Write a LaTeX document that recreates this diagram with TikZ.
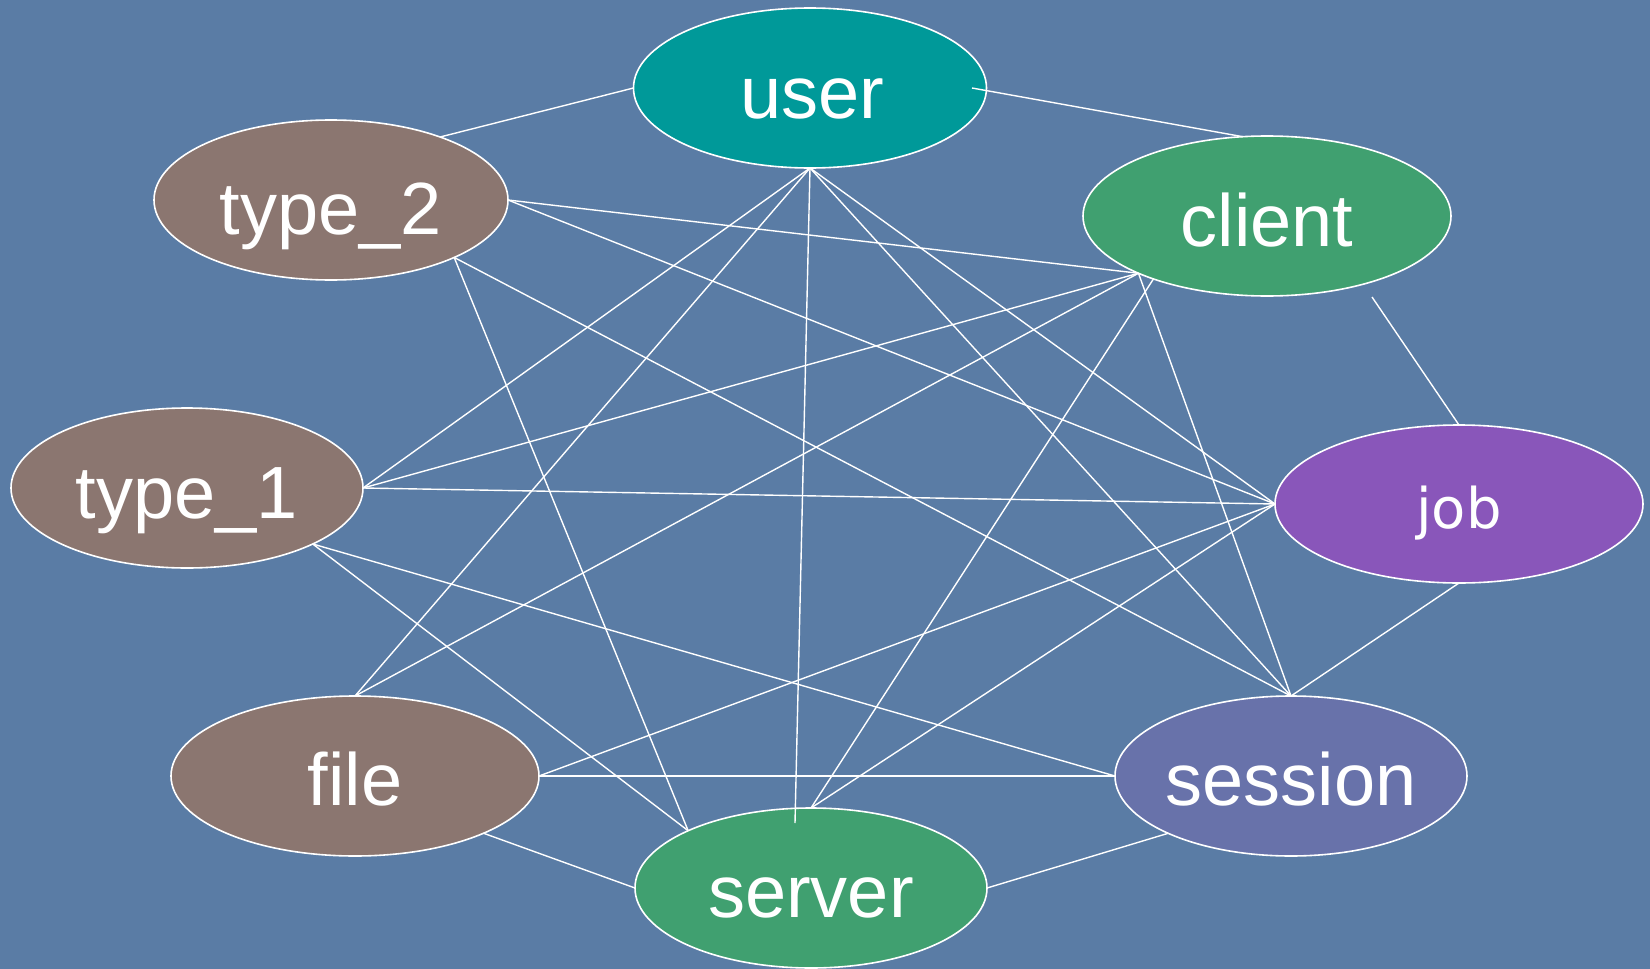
\documentclass[tikz,border=0pt]{standalone}
\usepackage{fontspec}
\setmainfont{Liberation Sans}
\newfontfamily\jobfont{DejaVu Sans}
\usetikzlibrary{shapes.geometric}
\definecolor{bgblue}{RGB}{90,124,165}
\definecolor{tealc}{RGB}{0,153,153}
\definecolor{brownc}{RGB}{139,118,112}
\definecolor{greenc}{RGB}{64,160,112}
\definecolor{purplec}{RGB}{137,86,186}
\definecolor{sessc}{RGB}{104,114,170}
\tikzset{
  ell/.style={ellipse, draw=white, line width=1.6pt, inner sep=0pt, outer sep=0pt},
  lab/.style={anchor=base, text=white, inner sep=0pt, font=\fontsize{74}{78}\selectfont},
  edge/.style={draw=white, line width=1.4pt}
}
\begin{document}
\begin{tikzpicture}[x=1pt,y=-1pt]
\fill[bgblue] (0,0) rectangle (1650,969);
\useasboundingbox (0,0) rectangle (1650,969);
% nodes
\node[ell, fill=tealc, minimum width=353pt, minimum height=160pt] (user) at (810,88) {};
\node[ell, fill=brownc, minimum width=354pt, minimum height=160pt] (type2) at (331,200) {};
\node[ell, fill=greenc, minimum width=368pt, minimum height=160pt] (client) at (1267,216) {};
\node[ell, fill=brownc, minimum width=352pt, minimum height=160pt] (type1) at (187,488) {};
\node[ell, fill=purplec, minimum width=368pt, minimum height=158pt] (job) at (1459,504) {};
\node[ell, fill=brownc, minimum width=368pt, minimum height=160pt] (file) at (355,776) {};
\node[ell, fill=sessc, minimum width=352pt, minimum height=160pt] (session) at (1291,776) {};
\node[ell, fill=greenc, minimum width=352pt, minimum height=160pt] (server) at (811,888) {};
% free ends
\coordinate (userr) at (972,88);
\coordinate (clientj) at (1372,297);
\coordinate (serverin) at (795,823);
% edges
\path[edge] (user.west) -- (type2.30);
\path[edge] (userr) -- (client.107);
\path[edge] (clientj) -- (job.north);
\path[edge] (job.south) -- (session.north);
\path[edge] (session.205) -- (server.east);
\path[edge] (server.west) -- (file.-24);
\path[edge] (type2.east) -- (client.204);
\path[edge] (type2.east) -- (job.west);
\path[edge] (type2.-25) -- (session.north);
\path[edge] (type2.-25) -- (server.155);
\path[edge] (user.south) -- (type1.east);
\path[edge] (user.south) -- (file.north);
\path[edge] (user.south) -- (serverin);
\path[edge] (user.south) -- (job.west);
\path[edge] (user.south) -- (session.north);
\path[edge] (client.204) -- (type1.east);
\path[edge] (client.204) -- (file.north);
\path[edge] (client.209) -- (server.north);
\path[edge] (client.204) -- (session.north);
\path[edge] (type1.east) -- (job.west);
\path[edge] (type1.-24) -- (server.155);
\path[edge] (type1.-24) -- (session.west);
\path[edge] (file.east) -- (job.west);
\path[edge] (file.east) -- (session.west);
\path[edge] (server.north) -- (job.west);
% labels
\node[lab] (userl) at (812,118) {user};
\node[lab] (type2l) at (331,234) {type\_2};
\node[lab] (clientl) at (1267,246) {client};
\node[lab] (type1l) at (187,518) {type\_1};
\node[lab, font=\jobfont\fontsize{56}{60}\selectfont] (jobl) at (1459,528) {job};
\node[lab] (filel) at (355,805) {file};
\node[lab] (sessionl) at (1291,805) {session};
\node[lab] (serverl) at (811,917) {server};
\end{tikzpicture}
\end{document}
